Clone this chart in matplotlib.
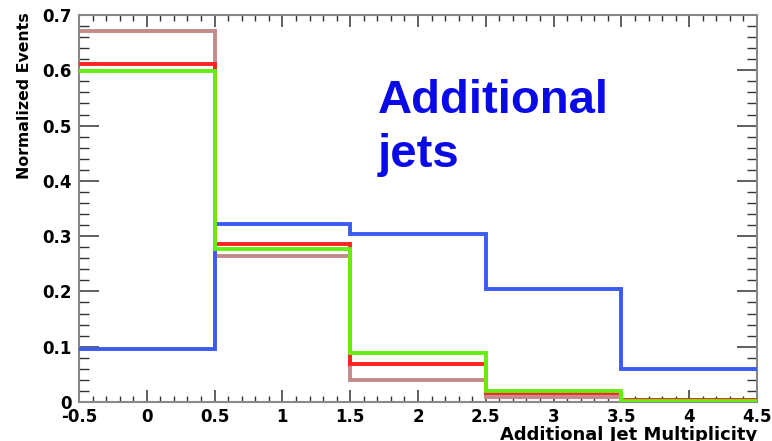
import numpy as np
import matplotlib
matplotlib.use("Agg")
import matplotlib.pyplot as plt
from matplotlib.ticker import MultipleLocator, FixedFormatter, FixedLocator

# Data
bin_edges = [-0.5, 0.5, 1.5, 2.5, 3.5, 4.5]
brown_vals = [0.671, 0.264, 0.040, 0.009, 0.002]
blue_vals = [0.096, 0.322, 0.304, 0.204, 0.060]
red_vals = [0.611, 0.286, 0.069, 0.016, 0.003]
green_vals = [0.599, 0.277, 0.089, 0.020, 0.002]
x_ticks = [-0.5, 0, 0.5, 1, 1.5, 2, 2.5, 3, 3.5, 4, 4.5]
x_tick_labels = ["-0.5", "0", "0.5", "1", "1.5", "2", "2.5", "3", "3.5", "4", "4.5"]
y_ticks = [0, 0.1, 0.2, 0.3, 0.4, 0.5, 0.6, 0.7]
y_tick_labels = ["0", "0.1", "0.2", "0.3", "0.4", "0.5", "0.6", "0.7"]

plt.rcParams['font.family'] = ['DejaVu Sans']
plt.rcParams['font.weight'] = 'bold'

W, H = 772, 441
fig = plt.figure(figsize=(W / 100, H / 100), dpi=100)
ax = fig.add_axes([79 / W, 1 - 402 / H, (757 - 79) / W, (402 - 15) / H])

lw = 2.8
ax.stairs(brown_vals, bin_edges, baseline=None, color='#c48a8a', lw=lw, zorder=2)
ax.stairs(blue_vals, bin_edges, baseline=None, color='#3a5cf0', lw=lw, zorder=3)
ax.stairs(red_vals, bin_edges, baseline=None, color='#ff2222', lw=lw, zorder=4)
ax.stairs(green_vals, bin_edges, baseline=None, color='#66ee11', lw=lw, zorder=5)

ax.set_xlim(-0.5, 4.5)
ax.set_ylim(0, 0.7)

ax.xaxis.set_major_locator(FixedLocator(x_ticks))
ax.xaxis.set_major_formatter(FixedFormatter(x_tick_labels))
ax.xaxis.set_minor_locator(MultipleLocator(0.1))
ax.yaxis.set_major_locator(FixedLocator(y_ticks))
ax.yaxis.set_major_formatter(FixedFormatter(y_tick_labels))
ax.yaxis.set_minor_locator(MultipleLocator(0.02))

ax.tick_params(axis='x', which='major', direction='in', length=8.6, width=1.1,
               color='#333333', top=True, bottom=True, labelsize=12, pad=4.5)
ax.tick_params(axis='x', which='minor', direction='in', length=4.3, width=1.0,
               color='#333333', top=True, bottom=True)
ax.tick_params(axis='y', which='major', direction='in', length=14.4, width=1.1,
               color='#333333', left=True, right=True, labelsize=12, pad=5)
ax.tick_params(axis='y', which='minor', direction='in', length=7.2, width=1.0,
               color='#333333', left=True, right=True)
for lab in ax.get_xticklabels() + ax.get_yticklabels():
    lab.set_fontweight('bold')

for sp in ax.spines.values():
    sp.set_color('#888888')
    sp.set_linewidth(1.5)

ax.set_ylabel("Normalized Events", fontsize=11.3, fontweight='bold', loc='top')
ax.yaxis.label.set_va('center')
ax.yaxis.set_label_coords(25 / W, 1 - 12 / H, transform=fig.transFigure)
ax.set_xlabel("Additional Jet Multiplicity", fontsize=13, fontweight='bold', loc='right')
ax.xaxis.label.set_va('baseline')
ax.xaxis.set_label_coords(757 / W, 1 - 440 / H, transform=fig.transFigure)

ax.text(378 / W, 1 - 113 / H, "Additional", transform=fig.transFigure, color='#0a0ae6',
        fontsize=34, fontweight='bold', ha='left', va='baseline', family='Liberation Sans')
ax.text(378 / W, 1 - 167 / H, "jets", transform=fig.transFigure, color='#0a0ae6',
        fontsize=34, fontweight='bold', ha='left', va='baseline', family='Liberation Sans')

fig.savefig("out.png", dpi=100)
